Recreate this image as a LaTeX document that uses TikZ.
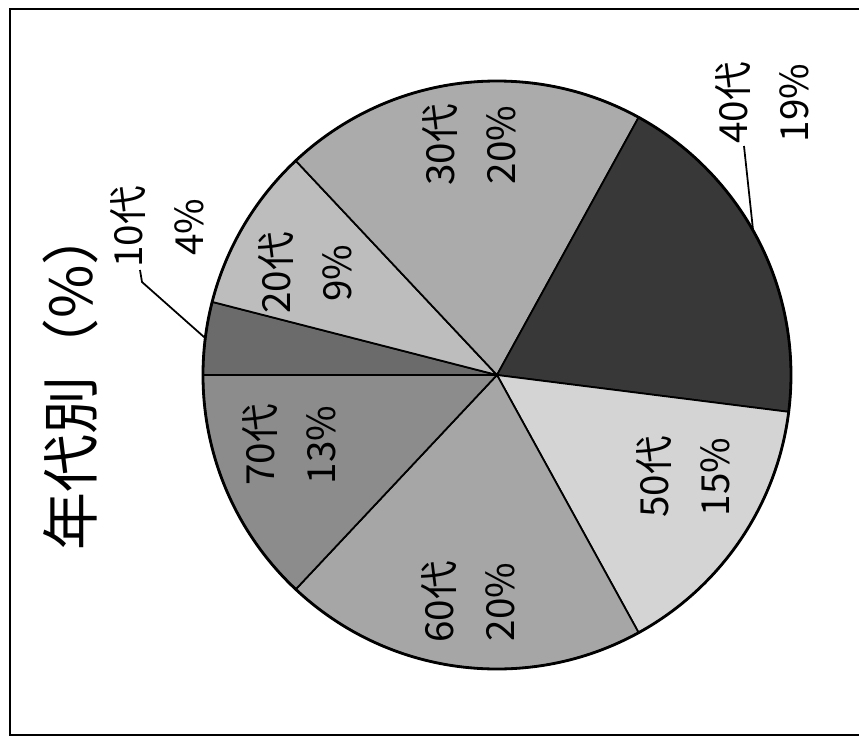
\documentclass[tikz,border=0pt]{standalone}
\usepackage{fontspec}
\setmainfont{Noto Sans CJK JP}
\usetikzlibrary{positioning}
\definecolor{grayA}{gray}{0.42}
\definecolor{grayB}{gray}{0.74}
\definecolor{grayC}{gray}{0.67}
\definecolor{grayD}{gray}{0.22}
\definecolor{grayE}{gray}{0.83}
\definecolor{grayF}{gray}{0.65}
\definecolor{grayG}{gray}{0.55}
\tikzset{
  slicelabel/.style={rotate=90, align=center, font=\fontsize{11}{17.5}\selectfont},
  leader/.style={line width=0.5pt}
}

\begin{document}
\begin{tikzpicture}
    \useasboundingbox (-4.97,-3.63) rectangle (3.62,3.75);
    % frame
    \draw [line width=0.6pt] (3.70,3.66) -- (-4.87,3.66) -- (-4.87,-3.60) -- (3.70,-3.60);
    % slices, clockwise from the left
    \foreach \a/\b/\c in {180/165.6/grayA, 165.6/133.2/grayB, 133.2/61.2/grayC,
                          61.2/-7.2/grayD, -7.2/-61.2/grayE, -61.2/-133.2/grayF,
                          -133.2/-180/grayG}
      \filldraw [fill=\c, line width=0.5pt] (0,0) -- (\a:2.94) arc [radius=2.94, start angle=\a, end angle=\b] -- cycle;
    \draw [line width=0.8pt] (0,0) circle [radius=2.94];
    % title
    \node (title) [rotate=90, font=\fontsize{16.5}{19}\selectfont] at (-4.27,-0.04) {年代別（\%）};
    % labels
    \node (l20) [slicelabel] at (-1.92,1.02) {20代\\9\%};
    \node (l30) [slicelabel] at (-0.28,2.30) {30代\\20\%};
    \node (l50) [slicelabel] at (1.86,-1.02) {50代\\15\%};
    \node (l60) [slicelabel] at (-0.29,-2.27) {60代\\20\%};
    \node (l70) [slicelabel] at (-2.08,-0.70) {70代\\13\%};
    \node (l10) [slicelabel] at (-3.40,1.48) {10代\\4\%};
    \node (l40) [slicelabel] at (2.65,2.72) {40代\\19\%};
    % leader lines
    \coordinate (c10) at (-3.57,1.05);
    \coordinate (c40) at (2.47,2.29);
    \draw [leader] (c10) -- ++(0.02,-0.12) -- (172.8:2.94);
    \draw [leader] (c40) -- (29.4:2.94);
  \end{tikzpicture}
\end{document}
